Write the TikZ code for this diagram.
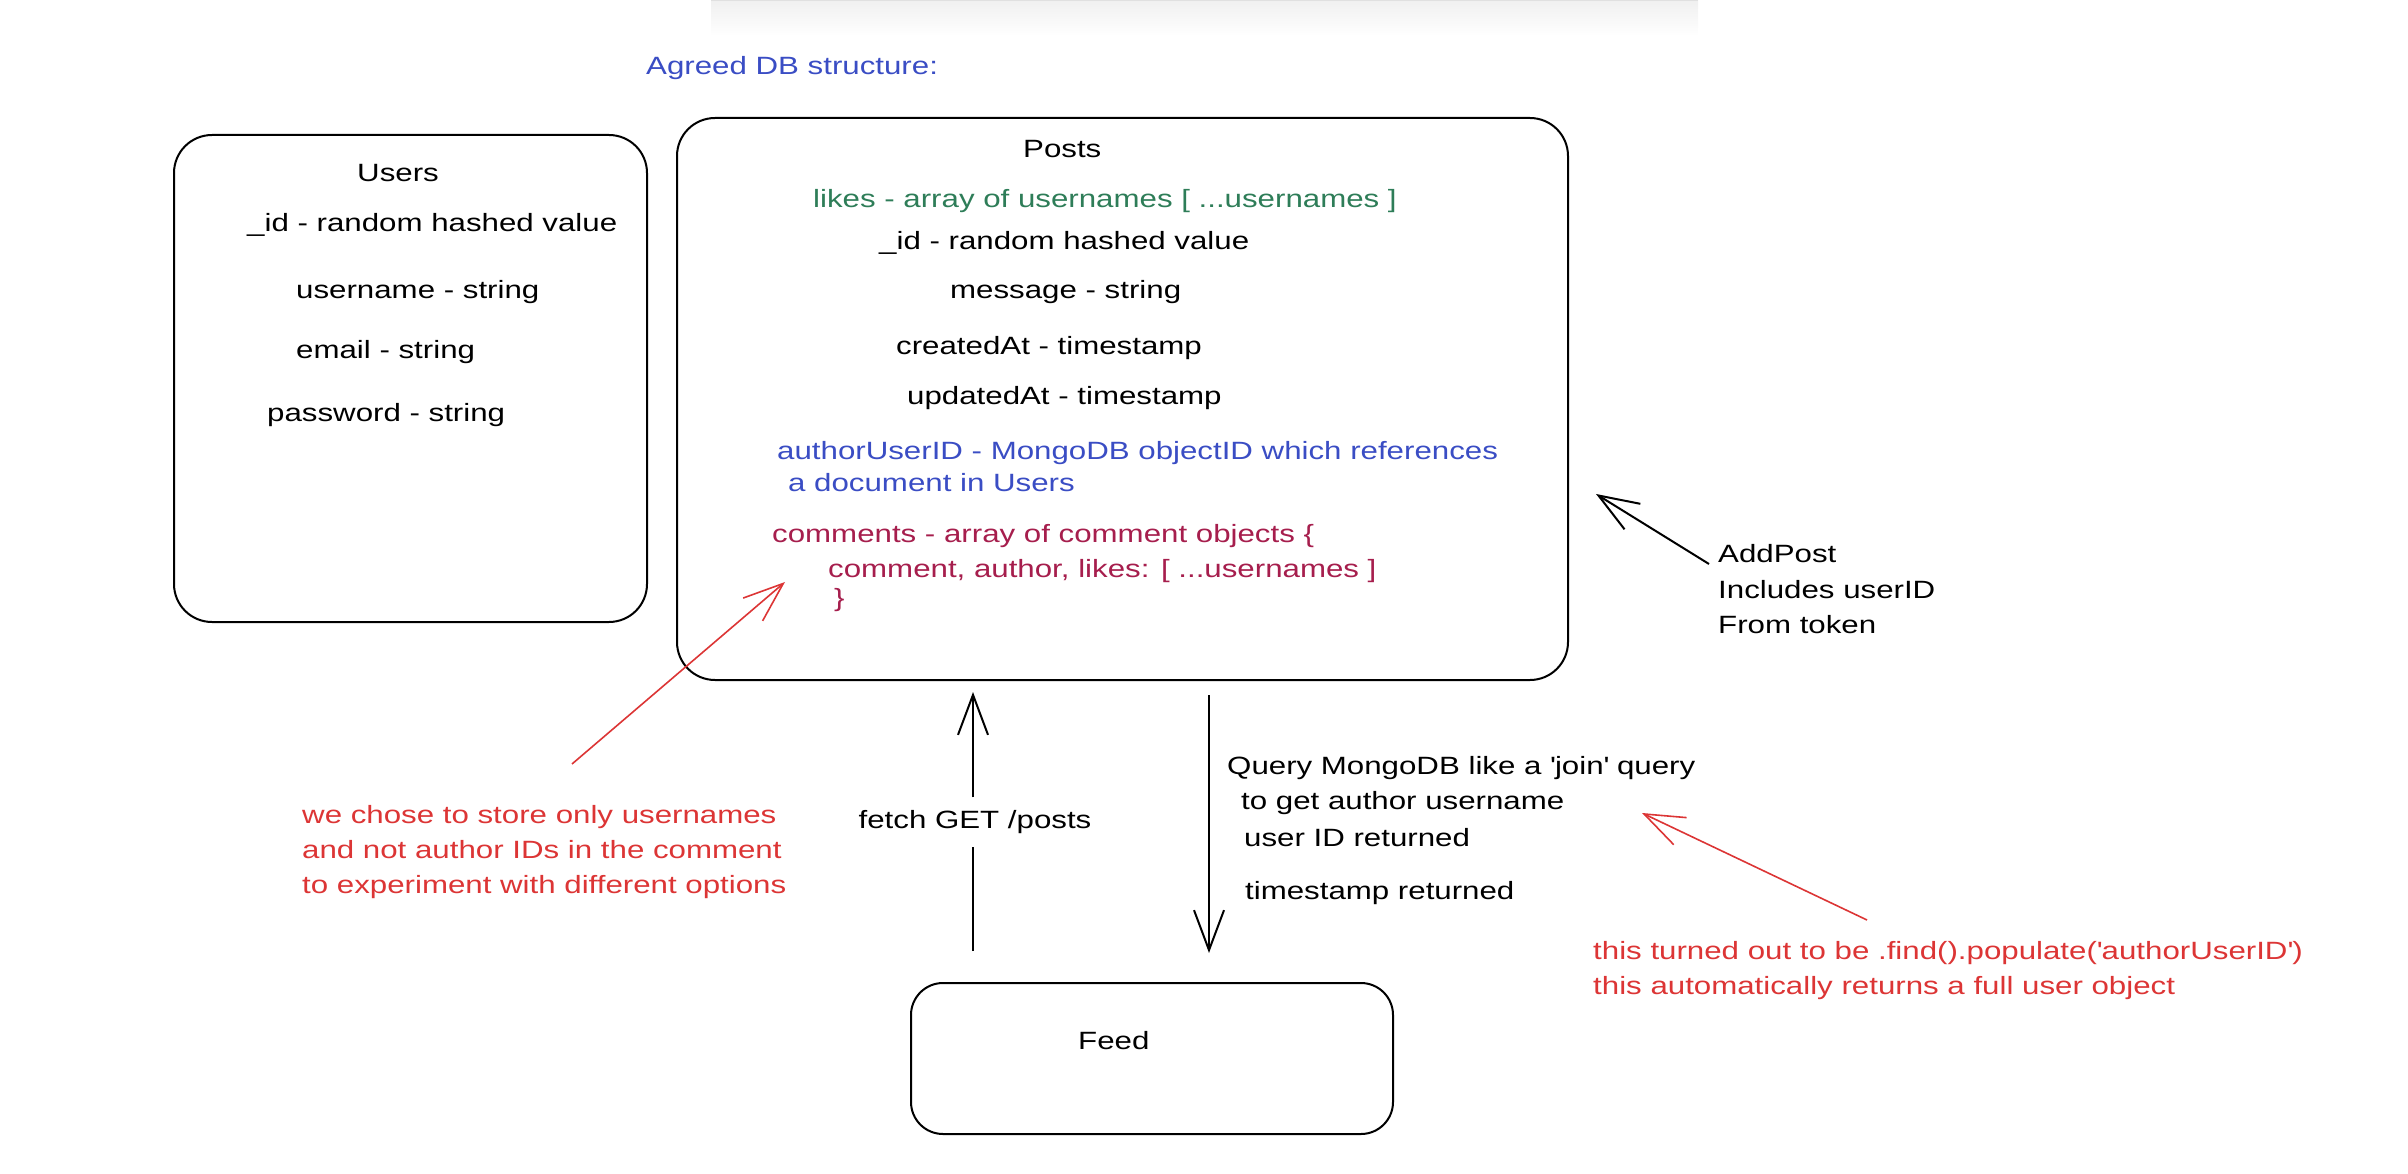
\documentclass[tikz,border=0pt]{standalone}
\usepackage{fontspec}
\setmainfont{Liberation Sans}[FakeStretch=1.25]
\usetikzlibrary{arrows.meta}
\definecolor{cgreen}{HTML}{2E7D58}
\definecolor{cblue}{HTML}{3A4DC4}
\definecolor{ccrim}{HTML}{A61E4D}
\definecolor{cred}{HTML}{DC3535}
\begin{document}
\begin{tikzpicture}[x=1pt,y=-1pt,
  every node/.style={font=\fontsize{25}{30}\selectfont, inner sep=0pt, text height=18pt, text depth=5pt},
  lbl/.style={anchor=west},
  box/.style={draw, line width=2pt, rounded corners=38pt},
  ln/.style={line width=2pt},
  arr/.style={line width=2pt, -{Straight Barb[length=40pt,width=30pt]}},
  redarr/.style={line width=1.6pt, draw=cred, -{Straight Barb[length=40pt,width=30pt]}}]
\useasboundingbox (0,0) rectangle (2408,1174);
\shade[top color=black!6, bottom color=white] (711,0) rectangle (1698,36);
\draw[black!12, line width=1.5pt] (711,0.75) -- (1698,0.75);
% boxes
\node[box, minimum width=473pt, minimum height=487pt] (users) at (410.5,378.5) {};
\node[box, minimum width=891pt, minimum height=562pt] (posts) at (1122.5,399) {};
\node[box, rounded corners=32pt, minimum width=482pt, minimum height=151pt] (feed) at (1152,1058.5) {};
% title
\node[lbl, text=cblue] (title) at (646,68) {Agreed DB structure:};
% users
\node[lbl] (usersT) at (357,175) {Users};
\node[lbl] (uid) at (247,225) {\_id - random hashed value};
\node[lbl] (uname) at (296,292) {username - string};
\node[lbl] (uemail) at (296,352) {email - string};
\node[lbl] (upass) at (267,415) {password - string};
% posts
\node[lbl] (postsT) at (1023,151) {Posts};
\node[lbl, text=cgreen] (plikes) at (813,201) {likes - array of usernames [ ...usernames ]};
\node[lbl] (pid) at (879,243) {\_id - random hashed value};
\node[lbl] (pmsg) at (950,292) {message - string};
\node[lbl] (pcreated) at (896,348) {createdAt - timestamp};
\node[lbl] (pupdated) at (907,398) {updatedAt - timestamp};
\node[lbl, text=cblue] (pauth1) at (777,453) {authorUserID - MongoDB objectID which references};
\node[lbl, text=cblue] (pauth2) at (788,485) {a document in Users};
\node[lbl, text=ccrim] (pcom1) at (772,536) {comments - array of comment objects \{};
\node[lbl, text=ccrim] (pcom2) at (828,571) {comment, author, likes: [ ...usernames ]};
\node[lbl, text=ccrim] (pcom3) at (834,600) {\}};
% feed
\node[lbl] (feedT) at (1078,1043) {Feed};
% labels
\node[inner ysep=13pt] (fetch) at (975,822) {fetch GET /posts};
\node[lbl] (q1) at (1227,768) {Query MongoDB like a \textquotesingle join\textquotesingle\ query};
\node[lbl] (q2) at (1241,803) {to get author username};
\node[lbl] (q3) at (1244,840) {user ID returned};
\node[lbl] (q4) at (1245,893) {timestamp returned};
\node[lbl] (ap1) at (1718,556) {AddPost};
\node[lbl] (ap2) at (1718,592) {Includes userID};
\node[lbl] (ap3) at (1718,627) {From token};
\node[lbl, text=cred] (r1a) at (302,817) {we chose to store only usernames};
\node[lbl, text=cred] (r1b) at (302,852) {and not author IDs in the comment};
\node[lbl, text=cred] (r1c) at (302,887) {to experiment with different options};
\node[lbl, text=cred] (r2a) at (1593,953) {this turned out to be .find().populate(\textquotesingle authorUserID\textquotesingle)};
\node[lbl, text=cred] (r2b) at (1593,988) {this automatically returns a full user object};
% connectors
\coordinate (upS) at (973,951);
\coordinate (upT) at (973,692);
\draw[ln] (upS) -- (upS |- fetch.south);
\draw[arr] (upS |- fetch.north) -- (upT);
\coordinate (dnS) at (1209,695);
\coordinate (dnT) at (1209,953);
\draw[arr] (dnS) -- (dnT);
\coordinate (apS) at (1709,564);
\coordinate (apT) at (1596,494);
\draw[arr] (apS) -- (apT);
\coordinate (r1S) at (572,764);
\coordinate (r1T) at (785,582);
\draw[redarr] (r1S) -- (r1T);
\coordinate (r2S) at (1867,920);
\coordinate (r2T) at (1642,813);
\draw[redarr] (r2S) -- (r2T);
\end{tikzpicture}
\end{document}
